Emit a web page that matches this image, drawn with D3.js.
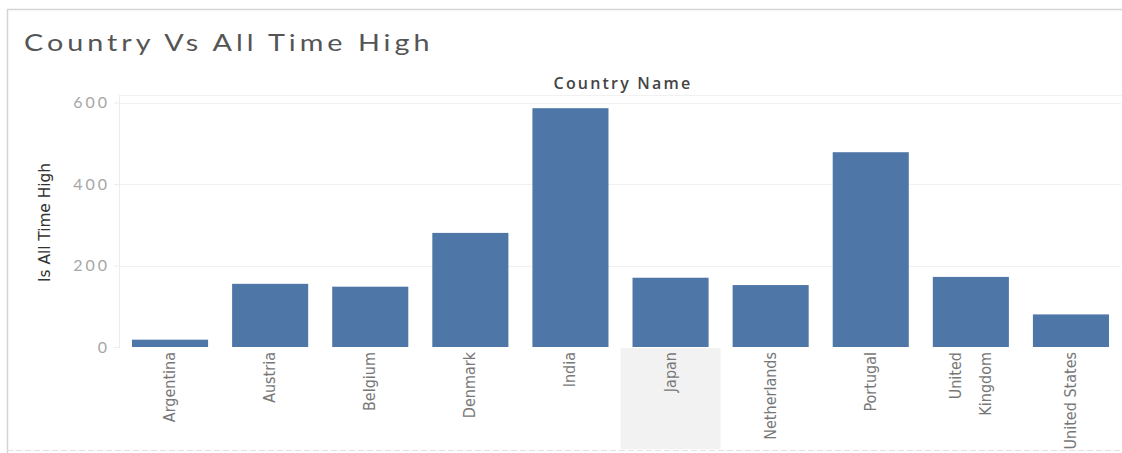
<!DOCTYPE html>
<html>
<head>
<meta charset="utf-8">
<script src="https://cdn.jsdelivr.net/npm/d3@7"></script>
<style>
  html, body { margin: 0; padding: 0; background: #fff; }
  svg { display: block; }
</style>
</head>
<body>
<svg id="chart" width="1122" height="453"></svg>
<script>
// Country names and their "Is All Time High" counts
const countries = ["Argentina", "Austria", "Belgium", "Denmark", "India",
                   "Japan", "Netherlands", "Portugal", "United Kingdom", "United States"];
const allTimeHigh = [18, 155, 148, 280, 586, 170, 152, 478, 172, 80];
const yTicks = [0, 200, 400, 600];
const highlighted = "Japan";

const svg = d3.select("#chart");
const W = 1122, H = 453;

const plot = { left: 120, right: 1121, top: 95, bottom: 347 };

const x = d3.scaleBand()
  .domain(countries)
  .range([plot.left, plot.right])
  .paddingInner(0.24)
  .paddingOuter(0.12);

const y = d3.scaleLinear()
  .domain([0, 610])
  .range([plot.bottom, plot.bottom - 610 * (81.5 / 200)]);

// outer frame
svg.append("path")
  .attr("d", `M7.5,${H} L7.5,9.5 L${W},9.5`)
  .attr("fill", "none")
  .attr("stroke", "#d4d4d4")
  .attr("stroke-width", 1.5);
svg.append("line")
  .attr("x1", 7).attr("x2", W)
  .attr("y1", 450.5).attr("y2", 450.5)
  .attr("stroke", "#e2e2e2")
  .attr("stroke-dasharray", "6,3");

// title
svg.append("text")
  .attr("transform", "translate(24,51) scale(1.25,1)")
  .attr("font-family", "Lato, 'Open Sans', sans-serif")
  .attr("font-size", 23)
  .attr("letter-spacing", 3.2)
  .attr("fill", "#555")
  .text("Country Vs All Time High");

// column header
svg.append("text")
  .attr("x", 623).attr("y", 89)
  .attr("text-anchor", "middle")
  .attr("font-family", "'Open Sans', sans-serif")
  .attr("font-weight", 600)
  .attr("font-size", 16)
  .attr("letter-spacing", 2.2)
  .attr("fill", "#444")
  .text("Country Name");
svg.append("line")
  .attr("x1", plot.left).attr("x2", W)
  .attr("y1", 95.5).attr("y2", 95.5)
  .attr("stroke", "#f1f1f1");

// highlighted label cell
svg.append("rect")
  .attr("x", x(highlighted) - x.step() * x.paddingInner() / 2)
  .attr("y", plot.bottom + 1)
  .attr("width", x.step())
  .attr("height", 449 - plot.bottom - 1)
  .attr("fill", "#f2f2f2");

// gridlines
svg.append("g")
  .selectAll("line")
  .data(yTicks.filter(d => d > 0))
  .join("line")
  .attr("x1", plot.left).attr("x2", plot.right)
  .attr("y1", d => Math.round(y(d)) + 0.5)
  .attr("y2", d => Math.round(y(d)) + 0.5)
  .attr("stroke", "#f0f0f0");

// y axis
const yAxis = svg.append("g")
  .attr("transform", `translate(${plot.left},0)`)
  .call(d3.axisLeft(y).tickValues(yTicks).tickSize(6).tickPadding(4));
yAxis.select(".domain")
  .attr("stroke", "#ececec")
  .attr("d", `M-0.5,${plot.top}V${plot.bottom}`);
yAxis.selectAll(".tick line").attr("stroke", "#ececec");
yAxis.selectAll(".tick text")
  .attr("font-family", "Lato, 'Open Sans', sans-serif")
  .attr("font-size", 16)
  .attr("letter-spacing", 3)
  .attr("fill", "#a6a6a6");

// y axis title
svg.append("text")
  .attr("transform", `translate(50,${(163 + 282) / 2}) rotate(-90)`)
  .attr("text-anchor", "middle")
  .attr("font-family", "'Liberation Sans Narrow', 'DejaVu Sans Condensed', sans-serif")
  .attr("font-size", 16)
  .attr("textLength", 119)
  .attr("lengthAdjust", "spacingAndGlyphs")
  .attr("fill", "#333")
  .text("Is All Time High");

// bars
svg.append("g")
  .selectAll("rect")
  .data(countries.map((c, i) => ({ c, v: allTimeHigh[i] })))
  .join("rect")
  .attr("x", d => x(d.c))
  .attr("width", x.bandwidth())
  .attr("y", d => y(d.v))
  .attr("height", d => y(0) - y(d.v))
  .attr("fill", "#4e77a7");

// x labels (rotated, wrapped where long and splittable)
const wrapped = { "United Kingdom": ["United", "Kingdom"] };
const xl = svg.append("g");
countries.forEach(c => {
  const lines = wrapped[c] || [c];
  const cx = x(c) + x.bandwidth() / 2;
  lines.forEach((ln, j) => {
    const off = (j - (lines.length - 1) / 2) * 30;
    xl.append("text")
      .attr("transform", `translate(${cx + off + 5},${plot.bottom + 5}) rotate(-90)`)
      .attr("text-anchor", "end")
      .attr("font-family", "'Liberation Sans Narrow', 'DejaVu Sans Condensed', sans-serif")
      .attr("font-size", 16)
      .attr("fill", "#777")
      .text(ln);
  });
});
</script>
</body>
</html>
